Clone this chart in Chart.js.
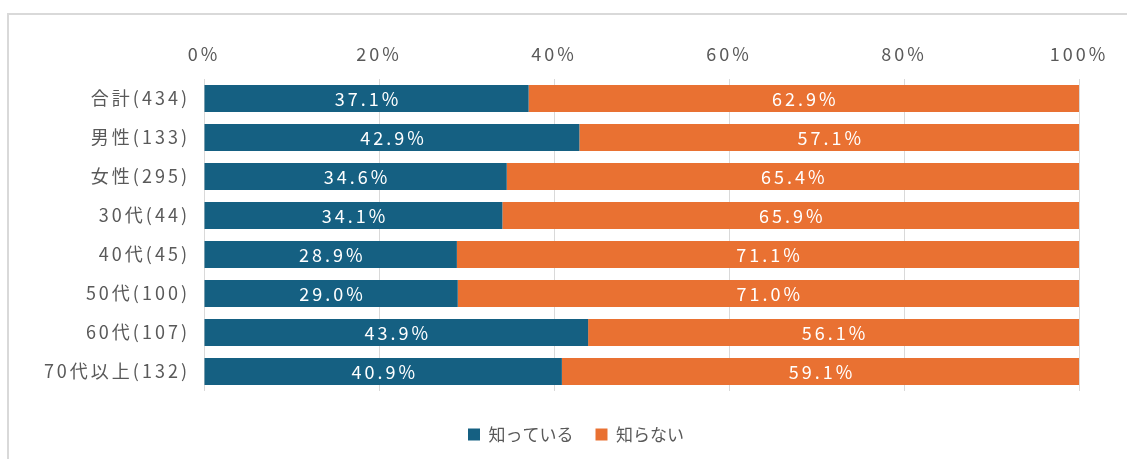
<!DOCTYPE html>
<html>
<head>
<meta charset="utf-8">
<script src="https://cdn.jsdelivr.net/npm/chart.js@4.4.1/dist/chart.umd.min.js"></script>
<style>
  html, body { margin: 0; padding: 0; background: #fff; overflow: hidden; }
  #wrap { position: relative; width: 1127px; height: 459px; overflow: hidden; }
  #frame { position: absolute; left: 7px; top: 13px; width: 1300px; height: 700px; border: 2px solid #d9d9d9; box-sizing: border-box; }
  #c { position: absolute; left: 0; top: 0; }
</style>
</head>
<body>
<div id="wrap">
  <div id="frame"></div>
  <canvas id="c" width="1144" height="453"></canvas>
</div>
<script>
const categories = ['合計(434)', '男性(133)', '女性(295)', '30代(44)', '40代(45)', '50代(100)', '60代(107)', '70代以上(132)'];
const seriesNames = ['知っている', '知らない'];
const knowValues = [37.1, 42.9, 34.6, 34.1, 28.9, 29.0, 43.9, 40.9];
const notKnowValues = [62.9, 57.1, 65.4, 65.9, 71.1, 71.0, 56.1, 59.1];
const tickValues = [0, 20, 40, 60, 80, 100];

const FONT = '"Noto Sans CJK JP", "Noto Sans", sans-serif';
const TEXT = '#595959';
const SPACING = '3px';

const spacingPlugin = {
  id: 'spacing',
  beforeDraw(chart) {
    const ctx = chart.ctx;
    if (chart.legend && !chart.legend._wrapped) {
      const orig = chart.legend.draw;
      chart.legend.draw = function (...args) {
        ctx.save();
        ctx.letterSpacing = '0px';
        orig.apply(this, args);
        ctx.restore();
      };
      chart.legend._wrapped = true;
    }
    ctx.letterSpacing = SPACING;
  },
  afterDraw(chart) {
    chart.ctx.letterSpacing = '0px';
  }
};

const labelPlugin = {
  id: 'barLabels',
  afterDatasetsDraw(chart) {
    const ctx = chart.ctx;
    ctx.save();
    ctx.letterSpacing = SPACING;
    ctx.fillStyle = '#ffffff';
    ctx.font = '18px ' + FONT;
    ctx.textAlign = 'center';
    ctx.textBaseline = 'middle';
    chart.data.datasets.forEach((ds, di) => {
      const meta = chart.getDatasetMeta(di);
      meta.data.forEach((el, i) => {
        const p = el.getProps(['x', 'y', 'base'], true);
        ctx.fillText(ds.data[i].toFixed(1) + '%', (p.x + p.base) / 2 + 1.5, p.y + 1);
      });
    });
    ctx.restore();
  }
};

new Chart(document.getElementById('c'), {
  type: 'bar',
  data: {
    labels: categories,
    datasets: [
      { label: seriesNames[0], data: knowValues, backgroundColor: '#156082', barPercentage: 0.69, categoryPercentage: 1 },
      { label: seriesNames[1], data: notKnowValues, backgroundColor: '#E97132', barPercentage: 0.69, categoryPercentage: 1 }
    ]
  },
  options: {
    indexAxis: 'y',
    responsive: false,
    animation: false,
    layout: { padding: { left: 8, top: 14, right: 0, bottom: 0 } },
    scales: {
      x: {
        stacked: true,
        position: 'top',
        min: 0, max: 100,
        afterBuildTicks(scale) { scale.ticks = tickValues.map(v => ({ value: v })); },
        afterFit(scale) { scale.height = 65; },
        grid: { color: '#d9d9d9', lineWidth: 1, drawTicks: false },
        border: { display: false },
        ticks: {
          padding: 14,
          color: TEXT,
          font: { family: FONT, size: 18 },
          callback: v => v + '%'
        }
      },
      xBottom: {
        type: 'linear',
        axis: 'x',
        position: 'bottom',
        afterFit(scale) { scale.height = 13; },
        grid: { display: false, drawTicks: false },
        border: { display: false },
        ticks: { display: false }
      },
      y: {
        stacked: true,
        afterFit(scale) { scale.width = 196; },
        grid: { display: false, drawTicks: false },
        border: { display: false },
        ticks: {
          padding: 14,
          color: TEXT,
          font: { family: FONT, size: 18 }
        }
      },
      yRight: {
        type: 'category',
        position: 'right',
        afterFit(scale) { scale.width = 65; },
        grid: { display: false, drawTicks: false },
        border: { display: false },
        ticks: { display: false }
      }
    },
    plugins: {
      legend: {
        position: 'bottom',
        labels: {
          color: TEXT,
          font: { family: FONT, size: 17 },
          boxWidth: 12,
          boxHeight: 12,
          padding: 22
        }
      },
      tooltip: { enabled: false }
    }
  },
  plugins: [spacingPlugin, labelPlugin]
});
</script>
</body>
</html>
